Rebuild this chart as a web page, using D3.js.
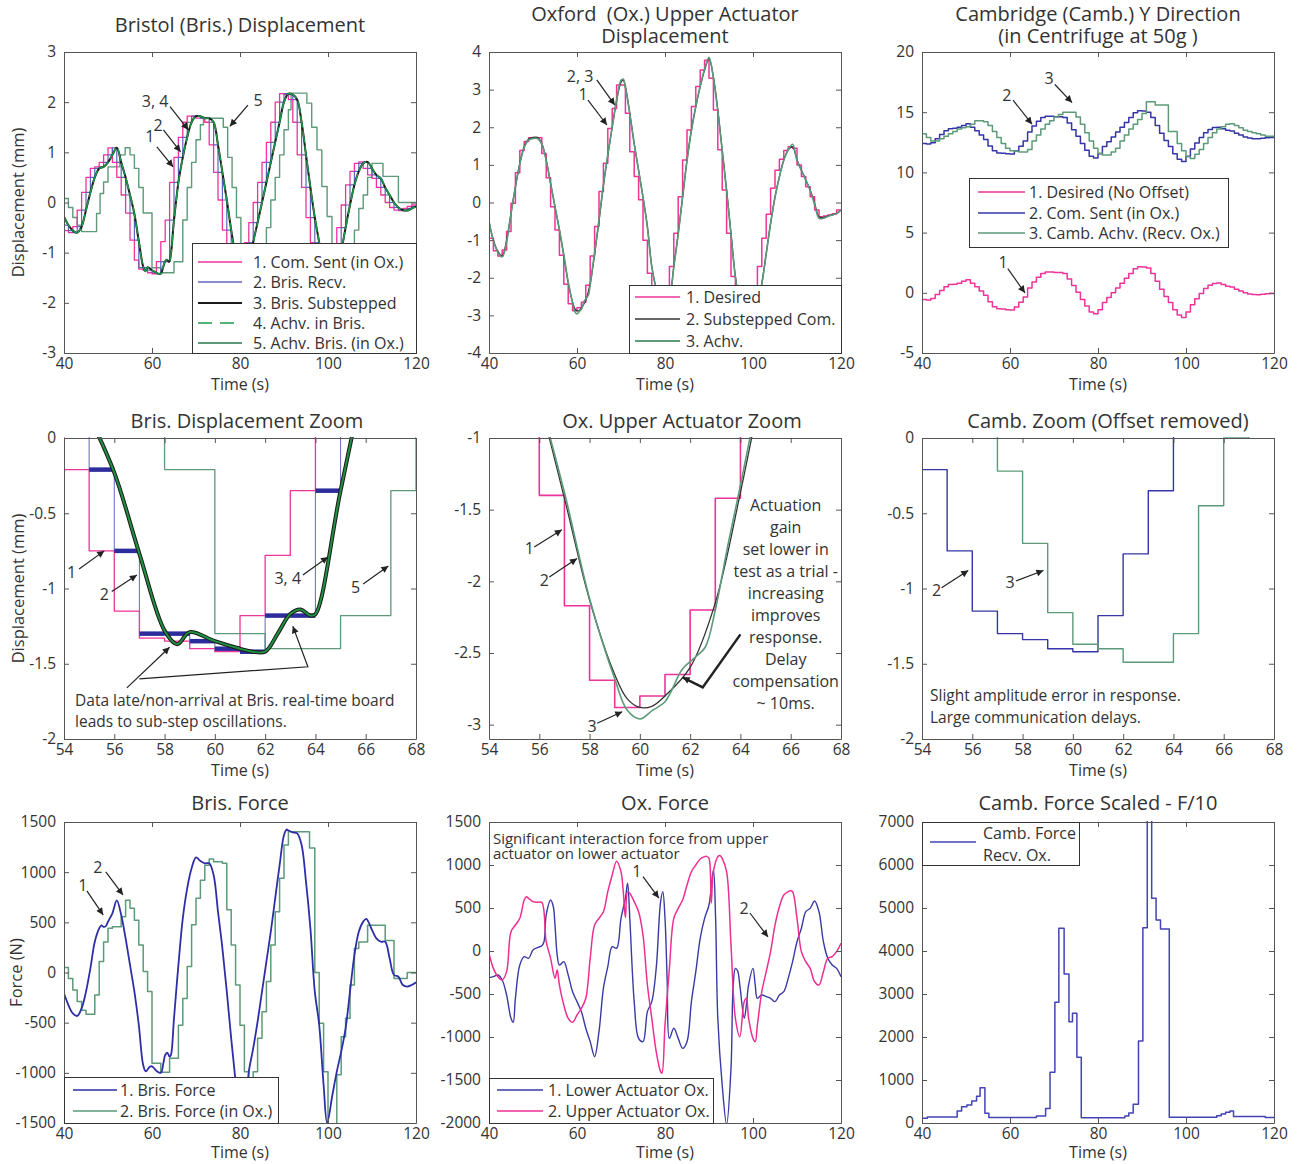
<!DOCTYPE html>
<html>
<head>
<meta charset="utf-8">
<script src="https://cdn.jsdelivr.net/npm/d3@7"></script>
<style>
  body { margin: 0; background: #fff; }
  svg text { font-family: "Open Sans", sans-serif; fill: #333; white-space: pre; }
  .axis text { font-size: 15.5px; }
</style>
</head>
<body>
<div id="chart"></div>
<script>
// ---------- data ----------
// Bristol displacement (mm), 1 s command steps starting at t = 40 s
var brisComSent = [
  -0.56, -0.6, -0.48, -0.15, 0.2, 0.5, 0.68, 0.71, 0.8, 0.95,
  1.09, 0.8, 0.5, 0.15, -0.21, -0.75, -1.15, -1.33, -1.35, -1.4,
  -1.42, -1.18, -0.78, -0.35, 0.4, 0.9, 1.3, 1.6, 1.72, 1.72,
  1.68, 1.68, 1.6, 1.15, 0.6, 0.05, -0.55, -1.1, -1.6, -1.75,
  -1.4, -0.8, -0.4, 0.0, 0.4, 0.8, 1.2, 1.6, 2.0, 2.17,
  2.15, 2.05, 1.6, 0.95, 0.3, -0.3, -0.8, -1.4, -1.85, -2.05,
  -1.6, -1.0, -0.5, -0.05, 0.35, 0.62, 0.78, 0.81, 0.68, 0.55,
  0.48, 0.3, 0.15, 0.0, -0.1, -0.15, -0.16, -0.12, -0.08, -0.05
];
var brisRecv = [
  -0.45, -0.56, -0.6, -0.48, -0.15, 0.2, 0.5, 0.68, 0.71, 0.8,
  0.95, 1.09, 0.8, 0.5, 0.15, -0.21, -0.75, -1.3, -1.3, -1.35,
  -1.4, -1.42, -1.18, -1.18, -0.35, 0.4, 0.9, 1.3, 1.6, 1.72,
  1.72, 1.68, 1.68, 1.6, 1.15, 0.6, 0.05, -0.55, -1.1, -1.6,
  -1.75, -1.4, -0.8, -0.4, 0.0, 0.4, 0.8, 1.2, 1.6, 2.0,
  2.17, 2.15, 2.05, 1.6, 0.95, 0.3, -0.3, -0.8, -1.4, -1.85,
  -2.05, -1.6, -1.0, -0.5, -0.05, 0.35, 0.62, 0.78, 0.81, 0.68,
  0.55, 0.48, 0.3, 0.15, 0.0, -0.1, -0.15, -0.16, -0.12, -0.08
];
// substepped command / achieved in Bristol [t, mm]
var brisSub = [
  [40, -0.28], [41, -0.45], [42, -0.56], [43, -0.6], [44, -0.48], [45, -0.15], [46, 0.2], [47, 0.5],
  [48, 0.68], [49, 0.71], [50, 0.8], [51, 0.95], [52, 1.09], [53, 0.8], [54, 0.5], [55, 0.15],
  [56, -0.23], [57, -0.77], [58, -1.28], [58.5, -1.37], [59, -1.29], [60, -1.35], [61, -1.4],
  [61.5, -1.42], [62, -1.42], [62.5, -1.3], [63, -1.17], [63.4, -1.14], [63.8, -1.18], [64, -1.17],
  [65, -0.35], [66, 0.4], [67, 0.9], [68, 1.3], [69, 1.6], [70, 1.72], [71, 1.72], [72, 1.68],
  [73, 1.68], [74, 1.6], [75, 1.15], [76, 0.6], [77, 0.05], [78, -0.55], [79, -1.1], [80, -1.6],
  [81, -1.75], [82, -1.4], [83, -0.8], [84, -0.4], [85, 0.0], [86, 0.4], [87, 0.8], [88, 1.2],
  [89, 1.6], [90, 2.0], [91, 2.17], [92, 2.15], [93, 2.05], [94, 1.6], [95, 0.95], [96, 0.3],
  [97, -0.3], [98, -0.8], [99, -1.4], [100, -1.85], [101, -2.05], [102, -1.6], [103, -1.0],
  [104, -0.5], [105, -0.05], [106, 0.35], [107, 0.62], [108, 0.78], [109, 0.81], [110, 0.68],
  [111, 0.55], [112, 0.48], [113, 0.3], [114, 0.15], [115, 0.0], [116, -0.1], [117, -0.15],
  [118, -0.16], [119, -0.12], [120, -0.08]
];
// achieved Bristol received in Oxford, held steps [t, mm]
var brisAchvOx = [
  [40, 0.08], [41, -0.1], [42, -0.3], [43, -0.45], [44, -0.58], [47.4, -0.22], [48.2, 0.18], [49, 0.41],
  [50, 0.71], [52.7, 0.95], [53.9, 1.09], [55, 0.95], [56, 0.68], [57, 0.3], [58, -0.21], [60, -1.3],
  [62, -1.4], [65, -1.18], [67, -0.35], [68, 0.3], [69, 0.8], [70, 1.25], [71, 1.55], [71.7, 1.68],
  [76.2, 1.5], [77.2, 0.9], [78.2, 0.3], [79.2, -0.3], [80.2, -0.9], [81.2, -1.5], [82.2, -1.8],
  [83.2, -1.7], [84.2, -1.3], [85.2, -0.9], [86, -0.5], [87, 0.05], [88, 0.5], [89, 0.95], [90, 1.45],
  [91, 1.85], [91.6, 2.18], [95.2, 1.98], [96.3, 1.5], [97.5, 1.05], [98.6, 0.32], [99.8, -0.28],
  [100.9, -0.85], [102, -1.5], [103, -1.9], [104, -1.5], [105, -0.95], [106, -0.55], [107, -0.12],
  [108, 0.15], [109, 0.5], [110, 0.78], [112.5, 0.52], [116, 0.0]
];

// Oxford upper actuator (mm), desired in 1 s steps from t = 40 s
var oxDesired = [
  -0.95, -1.28, -1.42, -1.26, -0.77, -0.02, 0.79, 1.38, 1.62, 1.72,
  1.72, 1.72, 1.3, 0.66, -0.11, -0.73, -1.4, -2.17, -2.69, -2.88,
  -2.8, -2.65, -2.2, -1.42, -0.64, 0.29, 1.04, 1.97, 2.5, 3.12,
  3.12, 2.37, 1.35, 0.69, 0.07, -1.0, -1.88, -2.3, -2.7, -2.85,
  -2.6, -1.7, -0.82, 0.15, 1.13, 1.93, 2.55, 3.08, 3.52, 3.78,
  3.3, 2.46, 1.4, 0.33, -0.82, -1.97, -2.7, -3.2, -3.3, -3.1,
  -2.6, -1.7, -0.95, -0.31, 0.38, 0.86, 1.15, 1.38, 1.48, 1.44,
  1.0, 0.69, 0.42, 0.15, -0.2, -0.38, -0.36, -0.33, -0.3, -0.2
];
var oxSubCom = [
  [40, -0.51], [41, -1.0], [42, -1.3], [43, -1.42], [44, -1.0], [45, -0.29], [46, 0.42], [47, 1.04],
  [48, 1.48], [49, 1.68], [50, 1.73], [51, 1.73], [52, 1.57], [53, 1.13], [54, 0.51], [55, -0.11],
  [56, -0.73], [57, -1.42], [58, -2.13], [59, -2.65], [59.5, -2.82], [60, -2.88], [60.5, -2.87],
  [61, -2.8], [62, -2.6], [63, -2.15], [64, -1.38], [65, -0.5], [66, 0.45], [67, 1.25], [68, 2.0],
  [69, 2.7], [70, 3.2], [70.5, 3.25], [71, 3.08], [72, 2.37], [73, 1.57], [74, 0.86], [75, 0.15],
  [76, -0.64], [77, -1.7], [78, -2.3], [79, -2.7], [80, -2.85], [81, -2.6], [82, -1.7], [83, -0.82],
  [84, 0.15], [85, 1.13], [86, 1.93], [87, 2.55], [88, 3.08], [89, 3.52], [90, 3.83], [91, 3.34],
  [92, 2.46], [93, 1.4], [94, 0.33], [95, -0.82], [96, -1.97], [97, -2.7], [98, -3.2], [99, -3.3],
  [100, -3.1], [101, -2.7], [102, -2.15], [103, -1.35], [104, -0.55], [105, 0.15], [106, 0.69],
  [107, 1.13], [108, 1.4], [109, 1.48], [110, 1.13], [111, 0.86], [112, 0.6], [113, 0.33],
  [114, -0.02], [115, -0.38], [116, -0.4], [117, -0.36], [118, -0.33], [119, -0.29], [120, -0.2]
];
var oxAchv = [
  [40, -0.5], [41, -1.02], [42, -1.32], [43, -1.45], [44, -1.05], [45, -0.3], [46, 0.4], [47, 1.02],
  [48, 1.46], [49, 1.66], [50, 1.7], [51, 1.7], [52, 1.55], [53, 1.12], [54, 0.5], [55, -0.12],
  [56, -0.72], [57, -1.38], [58, -2.12], [59, -2.68], [59.5, -2.9], [60, -2.96], [60.5, -2.9],
  [61, -2.84], [61.7, -2.61], [62.2, -2.53], [62.6, -2.46], [63, -2.2], [63.5, -1.75], [64, -1.33],
  [65, -0.45], [66, 0.47], [67, 1.27], [68, 2.02], [69, 2.72], [70, 3.25], [70.5, 3.28], [71, 3.05],
  [72, 2.35], [73, 1.55], [74, 0.85], [75, 0.13], [76, -0.66], [77, -1.72], [78, -2.3], [79, -2.7],
  [80, -2.85], [81, -2.6], [82, -1.72], [83, -0.85], [84, 0.13], [85, 1.1], [86, 1.9], [87, 2.55],
  [88, 3.1], [89, 3.55], [90, 3.86], [91, 3.3], [92, 2.42], [93, 1.38], [94, 0.3], [95, -0.85],
  [96, -2.0], [97, -2.7], [98, -3.2], [99, -3.3], [100, -3.1], [101, -2.7], [102, -2.17], [103, -1.38],
  [104, -0.57], [105, 0.13], [106, 0.68], [107, 1.12], [108, 1.4], [109, 1.55], [110, 1.12],
  [111, 0.85], [112, 0.6], [113, 0.32], [114, -0.05], [115, -0.42], [116, -0.42], [117, -0.37],
  [118, -0.33], [119, -0.29], [120, -0.2]
];

// Cambridge Y direction (mm), 1 s steps from t = 40 s
var cambDesired = [
  -0.56, -0.6, -0.48, -0.15, 0.2, 0.5, 0.68, 0.71, 0.8, 0.95,
  1.09, 0.8, 0.5, 0.15, -0.21, -0.75, -1.15, -1.33, -1.35, -1.4,
  -1.42, -1.18, -0.78, -0.35, 0.4, 0.9, 1.3, 1.6, 1.72, 1.72,
  1.68, 1.68, 1.6, 1.15, 0.6, 0.05, -0.55, -1.1, -1.6, -1.75,
  -1.4, -0.8, -0.4, 0.0, 0.4, 0.8, 1.2, 1.6, 2.0, 2.17,
  2.15, 2.05, 1.6, 0.95, 0.3, -0.3, -0.8, -1.4, -1.85, -2.05,
  -1.6, -1.0, -0.5, -0.05, 0.35, 0.62, 0.78, 0.81, 0.68, 0.55,
  0.48, 0.3, 0.15, 0.0, -0.1, -0.15, -0.16, -0.12, -0.08, -0.05
];
var cambComSent = [
  12.39, 12.35, 12.47, 12.8, 13.15, 13.45, 13.63, 13.66, 13.75, 13.9,
  14.04, 13.75, 13.45, 13.1, 12.74, 12.2, 11.8, 11.62, 11.6, 11.55,
  11.53, 11.77, 12.17, 12.6, 13.35, 13.85, 14.25, 14.55, 14.67, 14.67,
  14.63, 14.63, 14.55, 14.1, 13.55, 13.0, 12.4, 11.85, 11.35, 11.2,
  11.55, 12.15, 12.55, 12.95, 13.35, 13.75, 14.15, 14.55, 14.95, 15.12,
  15.1, 15.0, 14.55, 13.9, 13.25, 12.65, 12.15, 11.55, 11.1, 10.9,
  11.35, 11.95, 12.45, 12.9, 13.3, 13.57, 13.73, 13.76, 13.63, 13.5,
  13.43, 13.25, 13.1, 12.95, 12.85, 12.8, 12.79, 12.83, 12.87, 12.9
];
var cambAchv = [
  13.2, 12.9, 12.6, 12.6, 12.8, 13.0, 13.2, 13.4, 13.6, 13.7,
  13.8, 14.0, 14.3, 14.3, 14.2, 13.9, 13.4, 12.9, 12.4, 12.0,
  11.8, 11.75, 11.7, 11.7, 11.9, 12.6, 13.1, 13.6, 14.0, 14.3,
  14.6, 14.8, 15.0, 15.0, 15.0, 14.6, 14.0, 13.3, 12.6, 12.0,
  11.6, 11.45, 11.45, 11.7, 12.0, 12.6, 13.1, 13.6, 14.0, 14.4,
  14.9, 15.87, 15.87, 15.6, 15.6, 15.6, 13.4, 13.4, 12.4, 11.8,
  11.3, 11.15, 11.5, 11.9, 12.4, 12.9, 13.3, 13.6, 13.8, 14.0,
  14.05, 13.9, 13.7, 13.5, 13.4, 13.3, 13.2, 13.1, 13.0, 13.0
];
// Cambridge zoom, offset removed, 1 s steps from t = 54 s
var cambZoomSent = [-0.21, -0.75, -1.15, -1.3, -1.34, -1.4, -1.42, -1.18, -0.77, -0.35, 0.4, 0.9, 1.3, 1.6];
var cambZoomAchv = [0.9, 0.5, 0.2, -0.22, -0.7, -1.16, -1.37, -1.4, -1.49, -1.49, -1.3, -0.45, 0.0, 0.4];

// forces (N) [t, value]
var brisForce = [
  [40, -208], [41, -324], [42, -407], [43, -433], [44, -357], [45, -191], [46, 42], [47, 307],
  [48, 440], [48.5, 470], [49, 455], [49.5, 462], [50, 507], [51, 590], [52, 718], [53, 573],
  [54, 340], [55, 75], [56, -191], [57, -523], [58, -922], [58.6, -985], [59.5, -940], [60, -935],
  [61, -980], [62, -1000], [62.6, -900], [63, -822], [63.5, -800], [64, -840], [64.3, -822],
  [65, -457], [66, 75], [67, 540], [68, 839], [69, 1038], [70, 1148], [71, 1111], [72, 1088],
  [73, 1088], [74, 972], [75, 606], [76, 241], [77, -191], [78, -656], [79, -1088], [80, -1450],
  [81, -1400], [82, -988], [83, -756], [84, -490], [85, -191], [86, 108], [87, 407], [88, 739],
  [89, 1071], [90, 1370], [90.6, 1425], [91, 1415], [92, 1397], [93, 1387], [94, 1271], [95, 905],
  [96, 440], [97, -191], [98, -523], [99, -1121], [99.8, -1500], [101, -1221], [102, -988],
  [103, -789], [104, -557], [105, -191], [106, 174], [107, 407], [108, 507], [108.7, 535],
  [110, 424], [111, 340], [112, 307], [113, 307], [114, 141], [115, -25], [116, -42], [117, -125],
  [118, -141], [119, -125], [120, -98]
];
var brisForceOx = [
  [40, 50], [41, -60], [42, -175], [43, -290], [44, -375], [45, -415], [47, -225], [48, 110],
  [49, 305], [50, 440], [51, 455], [53, 555], [54, 720], [55, 640], [56, 520], [57, 275], [58, 10],
  [59, -190], [60, -905], [62, -995], [64, -855], [66, -525], [67, -260], [68, 60], [69, 475],
  [70, 740], [71, 920], [72, 1070], [73, 1130], [74, 1105], [76, 1090], [77, 625], [78, 275],
  [79, -125], [80, -525], [81, -990], [82, -1200], [83, -990], [84, -655], [85, -390], [86, -90],
  [87, 275], [88, 605], [89, 940], [90, 1270], [91, 1404], [95.8, 1240], [97, 0], [98, -505],
  [99, -990], [100, -1600], [102, -1020], [103, -640], [104, -455], [105, -125], [106, 240],
  [107, 305], [109, 470], [113, 320], [115, -60], [118, 0]
];
var oxLowerForce = [
  [40, -310], [41, -298], [42, -279], [43, -337], [44, -512], [45, -783], [45.5, -830], [46, -550],
  [47, -163], [48, -66], [49, -85], [50, 12], [51, 39], [52, 62], [52.5, 108], [53, 419], [54, 593],
  [54.6, 520], [55, 300], [55.5, -47], [56, -163], [57, -124], [58, -279], [59, -473], [60, -589],
  [61, -705], [62, -899], [63, -1054], [64, -1229], [65, -938], [66, -434], [67, -182], [68, 50],
  [69, 31], [70, 380], [71, 612], [71.5, 787], [72, 380], [73, -589], [74, -1016], [75, -1054],
  [76, -705], [77, -589], [78, -202], [79, 573], [79.5, 690], [80, 380], [80.5, -350], [81, -1016],
  [82, -899], [83, -1016], [84, -1132], [85, -1054], [86, -589], [87, -240], [88, 147], [89, 380],
  [90, 535], [91, 942], [91.5, 380], [92, -783], [93, -1558], [94, -2015], [95, -1364], [95.5, -400],
  [96, -202], [96.5, -230], [97, -395], [98, -783], [98.5, -628], [99, -395], [100, -202],
  [100.5, -395], [101, -550], [102, -512], [103, -531], [104, -550], [105, -589], [106, -512],
  [107, -473], [108, -318], [109, -124], [110, 108], [111, 264], [112, 457], [113, 496], [114, 581],
  [115, 457], [116, 108], [117, -85], [118, -163], [119, -202], [120, -298]
];
var oxUpperForce = [
  [40, -27], [41, -202], [42, -298], [43, -337], [44, -240], [45, 225], [46, 302], [47, 380],
  [48, 593], [48.5, 630], [49, 612], [50, 574], [51, 566], [52, 566], [53, 108], [54, -85],
  [55, -318], [55.5, -221], [56, -395], [57, -628], [58, -783], [59, -829], [60, -744], [61, -667],
  [62, -550], [63, -85], [64, 302], [65, 380], [66, 457], [67, 690], [68, 884], [69, 1045],
  [70, 922], [70.5, 700], [71, 390], [71.5, 690], [72, 671], [73, 574], [74, 457], [75, 186],
  [76, -395], [77, -783], [78, -1170], [79, -1403], [79.3, -1420], [80, -860], [81, -202], [82, 380],
  [83, 496], [84, 593], [85, 767], [86, 922], [87, 1000], [88, 1070], [89, 1097], [89.5, 1100],
  [90, 1077], [90.5, 554], [91, 922], [92, 1097], [92.5, 1110], [93, 1077], [94, 922], [95, 70],
  [96, -783], [97, -996], [98, -589], [98.5, -550], [99, -783], [100, -1016], [100.5, -1054],
  [101, -860], [102, -473], [103, -240], [104, -8], [105, 302], [106, 515], [107, 651], [108, 690],
  [108.5, 700], [109, 690], [110, 380], [111, -8], [112, -124], [113, -202], [114, -357], [115, -395],
  [116, -240], [117, -85], [118, -66], [119, -8], [120, 89]
];
var cambForce = [
  [40, 110], [41.2, 140], [48, 280], [49, 380], [50.2, 420], [51.3, 510], [52.4, 620], [53.2, 820],
  [54.3, 225], [55.2, 130], [66, 160], [68.1, 340], [69.1, 1178], [70.2, 2806], [71.1, 4527],
  [72.3, 3465], [73.4, 2357], [74.2, 2550], [75.2, 1527], [76.2, 124], [86.1, 160], [87, 230],
  [88, 434], [89.2, 1907], [90.2, 4543], [91.2, 7600], [92.2, 5225], [93.2, 4721], [94.2, 4512],
  [96.2, 132], [107, 170], [108, 210], [109, 250], [110, 280], [110.8, 150], [118, 130]
];

// ---------- layout ----------
var svgWidth = 1305, svgHeight = 1164;
var plotW = 352, plotH = 301;
var colLeft = [64, 489, 922];
var rowTop = [52, 438, 822];

var svg = d3.select("#chart").append("svg")
  .attr("width", svgWidth)
  .attr("height", svgHeight);

var defs = svg.append("defs");
defs.append("marker")
  .attr("id", "arrowhead")
  .attr("viewBox", "0 0 10 10")
  .attr("refX", 10).attr("refY", 5)
  .attr("markerWidth", 10).attr("markerHeight", 7)
  .attr("markerUnits", "userSpaceOnUse")
  .attr("orient", "auto")
  .append("path").attr("d", "M0,0L10,5L0,10Z").attr("fill", "#222");

function makePanel(o) {
  var g = svg.append("g").attr("transform", `translate(${o.left}, ${o.top})`);
  var x = d3.scaleLinear().domain(o.xDomain).range([0, plotW]);
  var y = d3.scaleLinear().domain(o.yDomain).range([plotH, 0]);

  g.append("clipPath").attr("id", "clip-" + o.id)
    .append("rect").attr("x", 0).attr("y", -1).attr("width", plotW).attr("height", plotH + 2);
  var data = g.append("g").attr("clip-path", `url(#clip-${o.id})`);

  var axes = g.append("g").attr("class", "axis");
  axes.append("g").attr("transform", `translate(0, ${plotH})`)
    .call(d3.axisBottom(x).tickValues(o.xTicks).tickSizeInner(-5).tickSizeOuter(0).tickPadding(5).tickFormat(d => String(d)));
  axes.append("g")
    .call(d3.axisTop(x).tickValues(o.xTicks).tickSizeInner(-5).tickSizeOuter(0).tickFormat(""));
  axes.append("g")
    .call(d3.axisLeft(y).tickValues(o.yTicks).tickSizeInner(-5).tickSizeOuter(0).tickPadding(8).tickFormat(d => String(d)));
  axes.append("g").attr("transform", `translate(${plotW}, 0)`)
    .call(d3.axisRight(y).tickValues(o.yTicks).tickSizeInner(-5).tickSizeOuter(0).tickFormat(""));
  axes.selectAll(".domain").attr("stroke", "#555");
  axes.selectAll(".tick line").attr("stroke", "#555");
  axes.selectAll("g").attr("font-family", null).attr("font-size", null);

  // title
  o.title.forEach(function(line, i) {
    g.append("text")
      .attr("x", plotW / 2 + (o.titleDx || 0))
      .attr("y", o.titleY[i])
      .attr("text-anchor", "middle")
      .style("font-size", "20px")
      .text(line);
  });
  g.append("text")
    .attr("x", plotW / 2)
    .attr("y", plotH + (o.timeDy || 37))
    .attr("text-anchor", "middle")
    .style("font-size", "16px")
    .text("Time (s)");
  if (o.yLabel) {
    g.append("text")
      .attr("transform", `translate(${o.yLabelX}, ${plotH / 2}) rotate(-90)`)
      .attr("text-anchor", "middle")
      .attr("dy", "0.35em")
      .style("font-size", "16.5px")
      .text(o.yLabel);
  }
  return { g: g, data: data, x: x, y: y };
}

// 1 s grid helper: values held for one second each
function secondSteps(start, values) {
  var pts = values.map((v, i) => [start + i, v]);
  pts.push([start + values.length, values[values.length - 1]]);
  return pts;
}
function heldSteps(pairs, endT) {
  var pts = pairs.slice();
  pts.push([endT, pairs[pairs.length - 1][1]]);
  return pts;
}

function drawLine(p, pts, color, width, curve, dash) {
  var line = d3.line()
    .x(d => p.x(d[0]))
    .y(d => p.y(d[1]))
    .curve(curve);
  p.data.append("path")
    .datum(pts)
    .attr("fill", "none")
    .attr("stroke", color)
    .attr("stroke-width", width)
    .attr("stroke-linejoin", "round")
    .attr("stroke-dasharray", dash || null)
    .attr("d", line);
}
var smooth = d3.curveCatmullRom.alpha(0.5);

function arrow(p, pts, width) {
  p.g.append("path")
    .attr("d", d3.line()(pts.map(d => [p.x(d[0]), p.y(d[1])])))
    .attr("fill", "none")
    .attr("stroke", "#222")
    .attr("stroke-width", width || 1.2)
    .attr("marker-end", "url(#arrowhead)");
}
function note(p, t, v, txt, anchor, size) {
  p.g.append("text")
    .attr("x", p.x(t))
    .attr("y", p.y(v))
    .attr("dy", "0.35em")
    .attr("text-anchor", anchor || "middle")
    .style("font-size", (size || 16) + "px")
    .text(txt);
}

function legend(p, box, rows, lineX, textX) {
  var lg = p.g.append("g");
  lg.append("rect")
    .attr("x", box[0] + 0.5).attr("y", box[1] + 0.5)
    .attr("width", box[2]).attr("height", box[3])
    .attr("fill", "#fff").attr("stroke", "#333");
  rows.forEach(function(r) {
    lg.append("line")
      .attr("x1", lineX[0]).attr("x2", lineX[1])
      .attr("y1", r.y).attr("y2", r.y)
      .attr("stroke", r.color)
      .attr("stroke-width", r.width || 1.5)
      .attr("stroke-dasharray", r.dash || null);
    lg.append("text")
      .attr("x", textX).attr("y", r.y)
      .attr("dy", "0.35em")
      .style("font-size", "16px")
      .text(r.label);
  });
}

var pink = "#ef339a", navy = "#3535a8", muted = "#5c9a79", bright = "#1c9a4a";
var dispTicks = [40, 60, 80, 100, 120], zoomTicks = [54, 56, 58, 60, 62, 64, 66, 68];

// ---------- A: Bristol displacement ----------
var A = makePanel({ id: "a", left: colLeft[0], top: rowTop[0], xDomain: [40, 120], yDomain: [-3, 3],
  xTicks: dispTicks, yTicks: [-3, -2, -1, 0, 1, 2, 3],
  title: ["Bristol (Bris.) Displacement"], titleY: [-20], yLabel: "Displacement (mm)", yLabelX: -46 });
drawLine(A, heldSteps(brisAchvOx, 120), muted, 1.4, d3.curveStepAfter);
drawLine(A, secondSteps(40, brisComSent), pink, 1.3, d3.curveStepAfter);
drawLine(A, secondSteps(40, brisRecv), "#6262c0", 1.2, d3.curveStepAfter);
drawLine(A, brisSub, "#1a1a1a", 2, smooth);
drawLine(A, brisSub, bright, 1.5, smooth, "12,3");
legend(A, [128, 191, 224, 110], [
  { y: 210, color: pink, label: "1. Com. Sent (in Ox.)" },
  { y: 230, color: "#6262c0", label: "2. Bris. Recv." },
  { y: 251, color: "#1a1a1a", width: 2, label: "3. Bris. Substepped" },
  { y: 271, color: bright, dash: "14,8", label: "4. Achv. in Bris." },
  { y: 291, color: muted, width: 1.8, label: "5. Achv. Bris. (in Ox.)" }
], [134, 178], 189);
note(A, 60.7, 2.01, "3, 4");
note(A, 61.4, 1.54, "2");
note(A, 59.5, 1.31, "1");
note(A, 84.1, 2.04, "5");
arrow(A, [[64.1, 1.91], [68.25, 1.45]]);
arrow(A, [[62.6, 1.45], [66.5, 1.01]]);
arrow(A, [[61.1, 1.11], [64.8, 0.71]]);
arrow(A, [[81.8, 1.94], [77.7, 1.52]]);

// ---------- B: Oxford upper actuator ----------
var B = makePanel({ id: "b", left: colLeft[1], top: rowTop[0], xDomain: [40, 120], yDomain: [-4, 4],
  xTicks: dispTicks, yTicks: [-4, -3, -2, -1, 0, 1, 2, 3, 4],
  title: ["Oxford  (Ox.) Upper Actuator", "Displacement"], titleY: [-31, -9] });
drawLine(B, secondSteps(40, oxDesired), pink, 1.5, d3.curveStepAfter);
drawLine(B, oxSubCom, "#333", 1.3, smooth);
drawLine(B, oxAchv, muted, 1.6, smooth);
legend(B, [140, 233, 212, 68], [
  { y: 245, color: pink, label: "1. Desired" },
  { y: 267, color: "#333", label: "2. Substepped Com." },
  { y: 289, color: muted, width: 1.8, label: "3. Achv." }
], [146, 191], 197);
note(B, 60.7, 3.34, "2, 3");
note(B, 61.4, 2.86, "1");
arrow(B, [[64.5, 3.26], [68.6, 2.59]]);
arrow(B, [[62.5, 2.72], [66.8, 2.06]]);

// ---------- C: Cambridge Y direction ----------
var C = makePanel({ id: "c", left: colLeft[2], top: rowTop[0], xDomain: [40, 120], yDomain: [-5, 20],
  xTicks: dispTicks, yTicks: [-5, 0, 5, 10, 15, 20],
  title: ["Cambridge (Camb.) Y Direction", "(in Centrifuge at 50g )"], titleY: [-31, -9] });
drawLine(C, secondSteps(40, cambDesired), pink, 1.5, d3.curveStepAfter);
drawLine(C, secondSteps(40, cambComSent), navy, 1.5, d3.curveStepAfter);
drawLine(C, secondSteps(40, cambAchv), muted, 1.5, d3.curveStepAfter);
legend(C, [47, 126, 259, 69], [
  { y: 140, color: pink, label: "1. Desired (No Offset)" },
  { y: 161, color: navy, label: "2. Com. Sent (in Ox.)" },
  { y: 181, color: muted, label: "3. Camb. Achv. (Recv. Ox.)" }
], [56, 103], 107);
note(C, 59.3, 16.4, "2");
note(C, 68.9, 17.8, "3");
note(C, 58.4, 2.5, "1");
arrow(C, [[60.7, 16.0], [65.0, 14.0]]);
arrow(C, [[70.2, 17.3], [74.1, 15.8]]);
arrow(C, [[59.5, 2.0], [63.4, 0.0]]);

// ---------- D: Bristol zoom ----------
var D = makePanel({ id: "d", left: colLeft[0], top: rowTop[1], xDomain: [54, 68], yDomain: [-2, 0],
  xTicks: zoomTicks, yTicks: [-2, -1.5, -1, -0.5, 0],
  title: ["Bris. Displacement Zoom"], titleY: [-10], titleDx: 7, yLabel: "Displacement (mm)", yLabelX: -46 });
drawLine(D, heldSteps(brisAchvOx, 120), muted, 1.3, d3.curveStepAfter);
drawLine(D, secondSteps(40, brisComSent), pink, 1.3, d3.curveStepAfter);
drawLine(D, secondSteps(40, brisRecv), "#7474c8", 1.1, d3.curveStepAfter);
D.data.selectAll(".recv-bar")
  .data(brisRecv.map((v, i) => [40 + i, v]))
  .enter().append("line")
  .attr("class", "recv-bar")
  .attr("x1", d => D.x(d[0])).attr("x2", d => D.x(d[0] + 1))
  .attr("y1", d => D.y(d[1])).attr("y2", d => D.y(d[1]))
  .attr("stroke", "#2c2c9c").attr("stroke-width", 4.5);
drawLine(D, brisSub, "#1a1a1a", 4, smooth);
drawLine(D, brisSub, "#1f8f40", 2, smooth);
note(D, 54.3, -0.89, "1");
note(D, 55.6, -1.04, "2");
note(D, 62.9, -0.93, "3, 4");
note(D, 65.6, -0.99, "5");
arrow(D, [[54.6, -0.87], [55.6, -0.75]]);
arrow(D, [[55.9, -1.02], [56.9, -0.91]]);
arrow(D, [[63.5, -0.91], [64.5, -0.79]]);
arrow(D, [[65.9, -0.97], [66.9, -0.85]]);
arrow(D, [[56.5, -1.66], [58.2, -1.39]]);
arrow(D, [[57.0, -1.6], [63.7, -1.52], [63.1, -1.25]]);
note(D, 54.44, -1.745, "Data late/non-arrival at Bris. real-time board", "start", 15.5);
note(D, 54.44, -1.885, "leads to sub-step oscillations.", "start", 15.5);

// ---------- E: Oxford zoom ----------
var E = makePanel({ id: "e", left: colLeft[1], top: rowTop[1], xDomain: [54, 68], yDomain: [-3.1, -1],
  xTicks: zoomTicks, yTicks: [-3, -2.5, -2, -1.5, -1],
  title: ["Ox. Upper Actuator Zoom"], titleY: [-10], titleDx: 17 });
drawLine(E, secondSteps(40, oxDesired), pink, 1.6, d3.curveStepAfter);
drawLine(E, oxSubCom, "#333", 1.3, smooth);
drawLine(E, oxAchv, muted, 1.6, smooth);
note(E, 55.6, -1.77, "1");
note(E, 56.2, -1.99, "2");
note(E, 58.1, -3.01, "3");
arrow(E, [[55.8, -1.76], [56.9, -1.64]]);
arrow(E, [[56.4, -1.97], [57.5, -1.84]]);
arrow(E, [[58.3, -2.99], [59.3, -2.91]]);
arrow(E, [[64.0, -2.37], [62.5, -2.74], [61.7, -2.67]], 2.5);
["Actuation", "gain", "set lower in", "test as a trial -", "increasing", "improves",
 "response.", "Delay", "compensation", "~ 10ms."].forEach(function(line, i) {
  note(E, 65.8, -1.47 - i * 0.1535, line, "middle", 16);
});

// ---------- F: Cambridge zoom ----------
var F = makePanel({ id: "f", left: colLeft[2], top: rowTop[1], xDomain: [54, 68], yDomain: [-2, 0],
  xTicks: zoomTicks, yTicks: [-2, -1.5, -1, -0.5, 0],
  title: ["Camb. Zoom (Offset removed)"], titleY: [-10], titleDx: 10 });
drawLine(F, secondSteps(54, cambZoomSent), navy, 1.4, d3.curveStepAfter);
drawLine(F, secondSteps(54, cambZoomAchv), muted, 1.4, d3.curveStepAfter);
note(F, 54.58, -1.01, "2");
note(F, 57.5, -0.96, "3");
arrow(F, [[54.78, -0.995], [55.84, -0.88]]);
arrow(F, [[57.74, -0.95], [58.83, -0.88]]);
note(F, 54.32, -1.71, "Slight amplitude error in response.", "start", 15.5);
note(F, 54.32, -1.855, "Large communication delays.", "start", 15.5);

// ---------- G: Bristol force ----------
var forceTicks = [40, 60, 80, 100, 120];
var G = makePanel({ id: "g", left: colLeft[0], top: rowTop[2], xDomain: [40, 120], yDomain: [-1500, 1500],
  xTicks: forceTicks, yTicks: [-1500, -1000, -500, 0, 500, 1000, 1500],
  title: ["Bris. Force"], titleY: [-12], yLabel: "Force (N)", yLabelX: -48, timeDy: 35 });
drawLine(G, heldSteps(brisForceOx, 120), muted, 1.5, d3.curveStepAfter);
drawLine(G, brisForce, "#2e2ea6", 1.8, smooth);
legend(G, [0, 255, 214, 46], [
  { y: 268, color: "#2e2ea6", label: "1. Bris. Force" },
  { y: 289, color: muted, label: "2. Bris. Force (in Ox.)" }
], [9, 53], 56);
note(G, 44.3, 872, "1");
note(G, 47.7, 1052, "2");
arrow(G, [[45.2, 813], [48.9, 574]]);
arrow(G, [[49.5, 1002], [53.4, 773]]);

// ---------- H: Oxford force ----------
var Hp = makePanel({ id: "h", left: colLeft[1], top: rowTop[2], xDomain: [40, 120], yDomain: [-2000, 1500],
  xTicks: forceTicks, yTicks: [-2000, -1500, -1000, -500, 0, 500, 1000, 1500],
  title: ["Ox. Force"], titleY: [-12], timeDy: 35 });
drawLine(Hp, oxLowerForce, "#3a3aa4", 1.4, smooth);
drawLine(Hp, oxUpperForce, "#ec2f93", 1.5, smooth);
legend(Hp, [0, 256, 224, 45], [
  { y: 268, color: "#3a3aa4", label: "1. Lower Actuator Ox." },
  { y: 289, color: "#ec2f93", label: "2. Upper Actuator Ox." }
], [8, 54], 59);
note(Hp, 40.9, 1310, "Significant interaction force from upper", "start", 15);
note(Hp, 40.9, 1130, "actuator on lower actuator", "start", 15);
note(Hp, 73.6, 925, "1");
note(Hp, 98.0, 500, "2");
arrow(Hp, [[75.0, 864], [78.6, 616]]);
arrow(Hp, [[99.3, 442], [103.4, 163]]);

// ---------- I: Cambridge force ----------
var I = makePanel({ id: "i", left: colLeft[2], top: rowTop[2], xDomain: [40, 120], yDomain: [0, 7000],
  xTicks: forceTicks, yTicks: [0, 1000, 2000, 3000, 4000, 5000, 6000, 7000],
  title: ["Camb. Force Scaled - F/10"], titleY: [-12], timeDy: 35 });
drawLine(I, heldSteps(cambForce, 120), "#4343b6", 1.5, d3.curveStepAfter);
var lgI = I.g.append("g");
lgI.append("rect").attr("x", 0.5).attr("y", 0.5).attr("width", 157).attr("height", 43)
  .attr("fill", "#fff").attr("stroke", "#333");
lgI.append("line").attr("x1", 8).attr("x2", 54).attr("y1", 20).attr("y2", 20)
  .attr("stroke", "#4343b6").attr("stroke-width", 1.5);
lgI.append("text").attr("x", 61).attr("y", 11).attr("dy", "0.35em").style("font-size", "16px").text("Camb. Force");
lgI.append("text").attr("x", 61).attr("y", 33).attr("dy", "0.35em").style("font-size", "16px").text("Recv. Ox.");
</script>
</body>
</html>
